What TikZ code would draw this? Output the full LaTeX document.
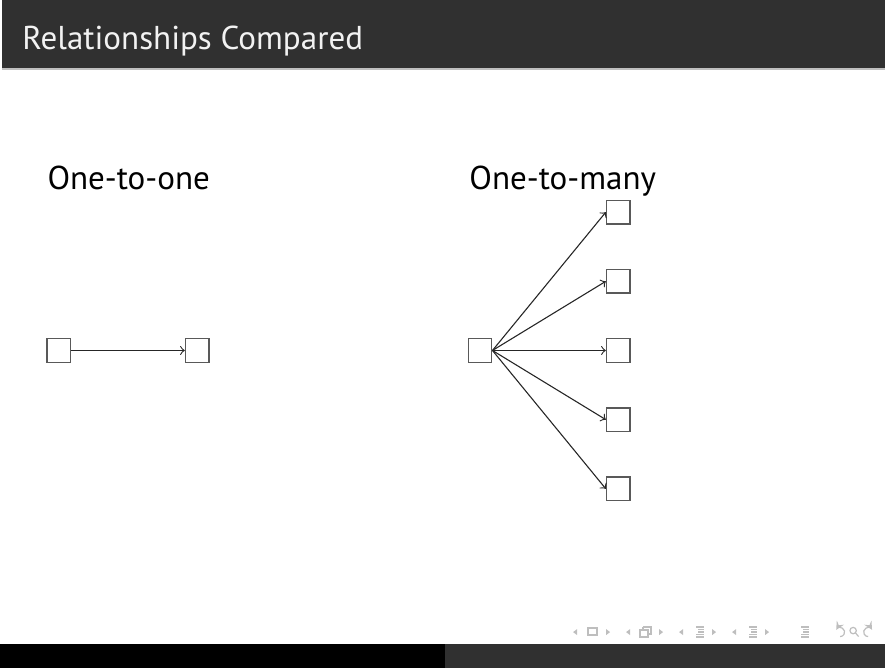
\documentclass[tikz,border=0pt]{standalone}
\usepackage{fontspec}
\setmainfont{PT Sans}
\usetikzlibrary{positioning}
\definecolor{barGray}{HTML}{303030}
\definecolor{navGray}{HTML}{BEBEBE}
\tikzset{
  box/.style={draw=black!65, line width=0.6pt, minimum size=0.34cm, inner sep=0pt},
  link/.style={->, black!85, line width=0.45pt},
  heading/.style={anchor=base west, inner sep=0pt, font=\fontsize{13.6}{16}\selectfont},
  navtri/.style={fill=navGray, draw=none},
}

\begin{document}
\begin{tikzpicture}
  \useasboundingbox (0,0) rectangle (12.8,-9.662);
  % head and foot bars
  \fill[barGray] (0.03,0) rectangle (12.8,-0.983);
  \fill[black!25] (0.03,-0.983) rectangle (12.8,-1.008);
  \fill[black] (0,-9.314) rectangle (6.436,-9.662);
  \fill[barGray] (6.436,-9.314) rectangle (12.8,-9.662);
  \node[heading, text=black!5] (title) at (0.318,-0.723) {Relationships Compared};

  % one-to-one
  \node[heading] (h1) at (0.68,-2.748) {One-to-one};
  \node[box] (a) at (0.853,-5.069) {};
  \node[box, on grid, right=2cm of a] (b) {};
  \draw[link] (a) -- (b);

  % one-to-many
  \node[heading] (h2) at (6.783,-2.748) {One-to-many};
  \node[box] (s) at (6.942,-5.069) {};
  \foreach \k/\dy in {1/2,2/1,3/0,4/-1,5/-2} {
    \path (s) ++(2,\dy) node[box] (t\k) {};
    \draw[link] (s.east) -- (t\k.west);
  }

  % navigation symbols
  \begin{scope}[x=0.014463cm, y=-0.014463cm, navGray, line width=0.5pt]
    \foreach \x in {577,630,683,736} \fill[navtri] (\x,629) -- (\x-4,632) -- (\x,635) -- cycle;
    \foreach \x in {606,659,712,765} \fill[navtri] (\x,629) -- (\x+4,632) -- (\x,635) -- cycle;
    \draw (588,628) rectangle (597,635);
    \draw (640,630) rectangle (648,637);
    \draw (643,627) -- (651,627) -- (651,634) -- (648,634);
    \draw (643,627) -- (643,630);
    \foreach \x in {696,749,801} {
      \draw (\x,627) -- (\x+8,627);
      \draw (\x+2,629.5) -- (\x+8,629.5);
      \draw (\x+2,632) -- (\x+8,632);
      \draw (\x,634.5) -- (\x+8,634.5);
      \draw (\x,637) -- (\x+8,637);
    }
    \draw[<-, >=stealth] (840,632) ++(-150:4.5) arc (-150:90:4.5);
    \draw (853,630.5) circle (3.2);
    \draw (855.5,633) -- (858.5,636.5);
    \draw[<-, >=stealth] (868,632) ++(-30:4.5) arc (-30:-270:4.5);
  \end{scope}
\end{tikzpicture}
\end{document}
